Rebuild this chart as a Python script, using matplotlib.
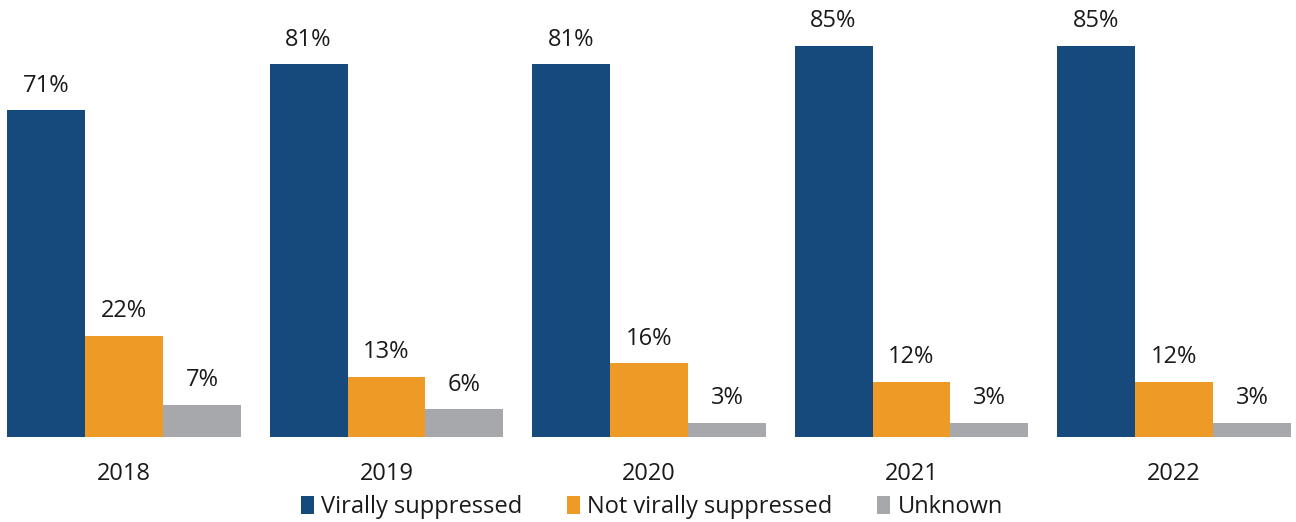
import matplotlib.pyplot as plt
import numpy as np

plt.rcParams['font.family'] = ['Open Sans', 'DejaVu Sans']

years = ['2018', '2019', '2020', '2021', '2022']
series_names = ['Virally suppressed', 'Not virally suppressed', 'Unknown']
suppressed = [71, 81, 81, 85, 85]
not_suppressed = [22, 13, 16, 12, 12]
unknown = [7, 6, 3, 3, 3]
colors = ['#174A7C', '#EE9A26', '#A7A8AC']

fig = plt.figure(figsize=(12.96, 5.22), dpi=100)
ax = fig.add_axes([0, 85 / 522, 1, 437 / 522])

x = np.arange(len(years))
width = 0.297
for i, (vals, name, c) in enumerate(zip([suppressed, not_suppressed, unknown], series_names, colors)):
    pos = x + (i - 1) * width
    ax.bar(pos, vals, width, color=c, label=name)
    for px, v in zip(pos, vals):
        ax.text(px, v + 5.4, f'{v}%', ha='center', va='center', fontsize=17, color='#1a1a1a')

ax.set_xlim(-124 / 262.5, (1296 - 124) / 262.5)
ax.set_ylim(0, 437 / 4.6)
ax.set_xticks(x)
ax.set_xticklabels(years, fontsize=17, color='#1a1a1a')
ax.tick_params(axis='x', length=0, pad=18)
ax.set_yticks([])
for s in ax.spines.values():
    s.set_visible(False)

fig.legend(loc='center', bbox_to_anchor=(0.503, 15 / 522), ncol=3, frameon=False,
           fontsize=17, handlelength=0.55, handleheight=0.8, handletextpad=0.3,
           columnspacing=1.9, labelcolor='#1a1a1a')

fig.savefig('out.png', dpi=100)
